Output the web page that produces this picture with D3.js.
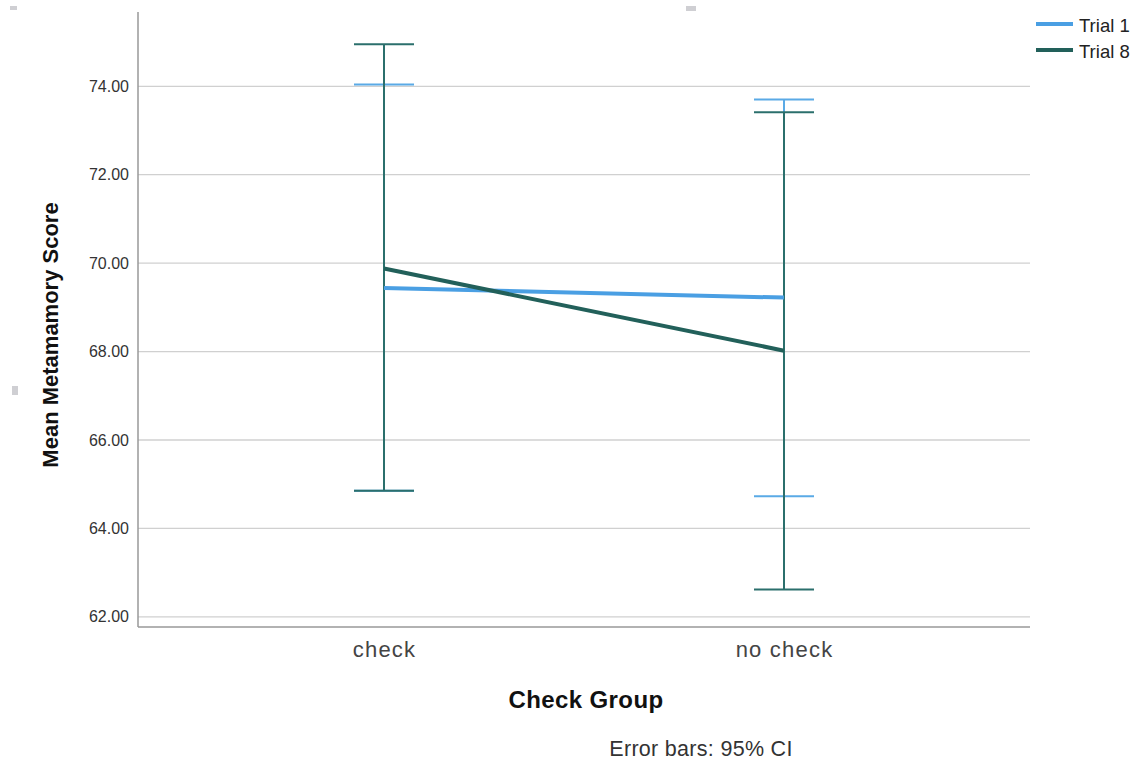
<!DOCTYPE html>
<html>
<head>
<meta charset="utf-8">
<script src="https://cdn.jsdelivr.net/npm/d3@7"></script>
<style>
  body { margin: 0; background: #fff; }
  svg { display: block; font-family: "Liberation Sans", Arial, sans-serif; }
</style>
</head>
<body>
<svg id="chart" width="1143" height="763"></svg>
<script>
// Group means and 95% confidence intervals
const categories = ["check", "no check"];
const seriesNames = ["Trial 1", "Trial 8"];
const trial1Mean = [69.44, 69.22];
const trial1Lower = [64.85, 64.73];
const trial1Upper = [74.04, 73.70];
const trial8Mean = [69.88, 68.02];
const trial8Lower = [64.85, 62.62];
const trial8Upper = [74.95, 73.41];
const yTicks = [62, 64, 66, 68, 70, 72, 74];

const colors = { "Trial 1": "#4a9fe3", "Trial 8": "#22605a" };
const barColors = { "Trial 1": "#5aaae6", "Trial 8": "#2b6f6c" };

const series = [
  { name: "Trial 1", mean: trial1Mean, lo: trial1Lower, hi: trial1Upper },
  { name: "Trial 8", mean: trial8Mean, lo: trial8Lower, hi: trial8Upper }
];

const svg = d3.select("#chart");
const plotLeft = 138, plotRight = 1030, plotTop = 12, plotBottom = 627;

const x = d3.scalePoint().domain(categories).range([plotLeft, plotRight]).padding(0.615);
const y = d3.scaleLinear().domain([61.77, 75.68]).range([plotBottom, plotTop]);

// gridlines
svg.append("g")
  .selectAll("line")
  .data(yTicks)
  .join("line")
  .attr("x1", plotLeft).attr("x2", plotRight)
  .attr("y1", d => y(d)).attr("y2", d => y(d))
  .attr("stroke", "#d0d0d0").attr("stroke-width", 1.3);

// y axis
const yAxis = svg.append("g")
  .attr("transform", `translate(${plotLeft},0)`)
  .call(d3.axisLeft(y).tickValues(yTicks).tickFormat(d3.format(".2f")).tickSize(0).tickPadding(9));
yAxis.select(".domain").remove();
yAxis.selectAll("text").attr("font-size", 16).attr("fill", "#333")
  .attr("font-family", "Liberation Sans, Arial, sans-serif");
svg.append("line").attr("x1", plotLeft).attr("x2", plotLeft).attr("y1", plotTop).attr("y2", plotBottom)
  .attr("stroke", "#999").attr("stroke-width", 1.5);

// x axis
const xAxis = svg.append("g")
  .attr("transform", `translate(0,${plotBottom})`)
  .call(d3.axisBottom(x).tickSize(0).tickPadding(14));
xAxis.select(".domain").remove();
xAxis.selectAll("text").attr("font-size", 22).attr("fill", "#444")
  .attr("letter-spacing", 1.2)
  .attr("font-family", "Liberation Sans, Arial, sans-serif");
svg.append("line").attr("x1", plotLeft).attr("x2", plotRight).attr("y1", plotBottom).attr("y2", plotBottom)
  .attr("stroke", "#999").attr("stroke-width", 1.5);

// error bars
const capHalf = 30;
series.forEach(s => {
  const g = svg.append("g");
  categories.forEach((c, i) => {
    const cx = x(c);
    g.append("line").attr("x1", cx).attr("x2", cx)
      .attr("y1", y(s.lo[i])).attr("y2", y(s.hi[i]))
      .attr("stroke", barColors[s.name]).attr("stroke-width", 2);
    [s.lo[i], s.hi[i]].forEach(v => {
      g.append("line").attr("x1", cx - capHalf).attr("x2", cx + capHalf)
        .attr("y1", y(v)).attr("y2", y(v))
        .attr("stroke", barColors[s.name]).attr("stroke-width", 2);
    });
  });
});

// mean lines
const line = d3.line().x((d, i) => x(categories[i])).y(d => y(d));
series.forEach(s => {
  svg.append("path").datum(s.mean)
    .attr("d", line)
    .attr("fill", "none")
    .attr("stroke", colors[s.name])
    .attr("stroke-width", 4);
});

// legend
const legend = svg.append("g").attr("transform", "translate(1036,24)");
seriesNames.forEach((n, i) => {
  const gy = i * 26;
  legend.append("line").attr("x1", 0).attr("x2", 37).attr("y1", gy).attr("y2", gy)
    .attr("stroke", colors[n]).attr("stroke-width", 4);
  legend.append("text").attr("x", 43).attr("y", gy + 8)
    .attr("font-size", 18.5).attr("fill", "#222").text(n);
});

// axis titles
svg.append("text")
  .attr("transform", "translate(58,335) rotate(-90)")
  .attr("text-anchor", "middle")
  .attr("font-size", 22).attr("font-weight", "bold").attr("fill", "#111")
  .text("Mean Metamamory Score");

svg.append("text")
  .attr("x", (plotLeft + plotRight) / 2 + 2).attr("y", 708)
  .attr("text-anchor", "middle")
  .attr("font-size", 24).attr("font-weight", "bold").attr("fill", "#111")
  .attr("letter-spacing", 0.4)
  .text("Check Group");

svg.append("text")
  .attr("x", 701).attr("y", 756)
  .attr("text-anchor", "middle")
  .attr("font-size", 21.5).attr("fill", "#333")
  .attr("letter-spacing", 0.3)
  .text("Error bars: 95% CI");

// small handle markers
[[10, 6, 7, 4], [686, 6, 10, 5], [12, 386, 6, 9]].forEach(([rx, ry, rw, rh]) => {
  svg.append("rect").attr("x", rx).attr("y", ry).attr("width", rw).attr("height", rh)
    .attr("fill", "#cfcfd3");
});
</script>
</body>
</html>
